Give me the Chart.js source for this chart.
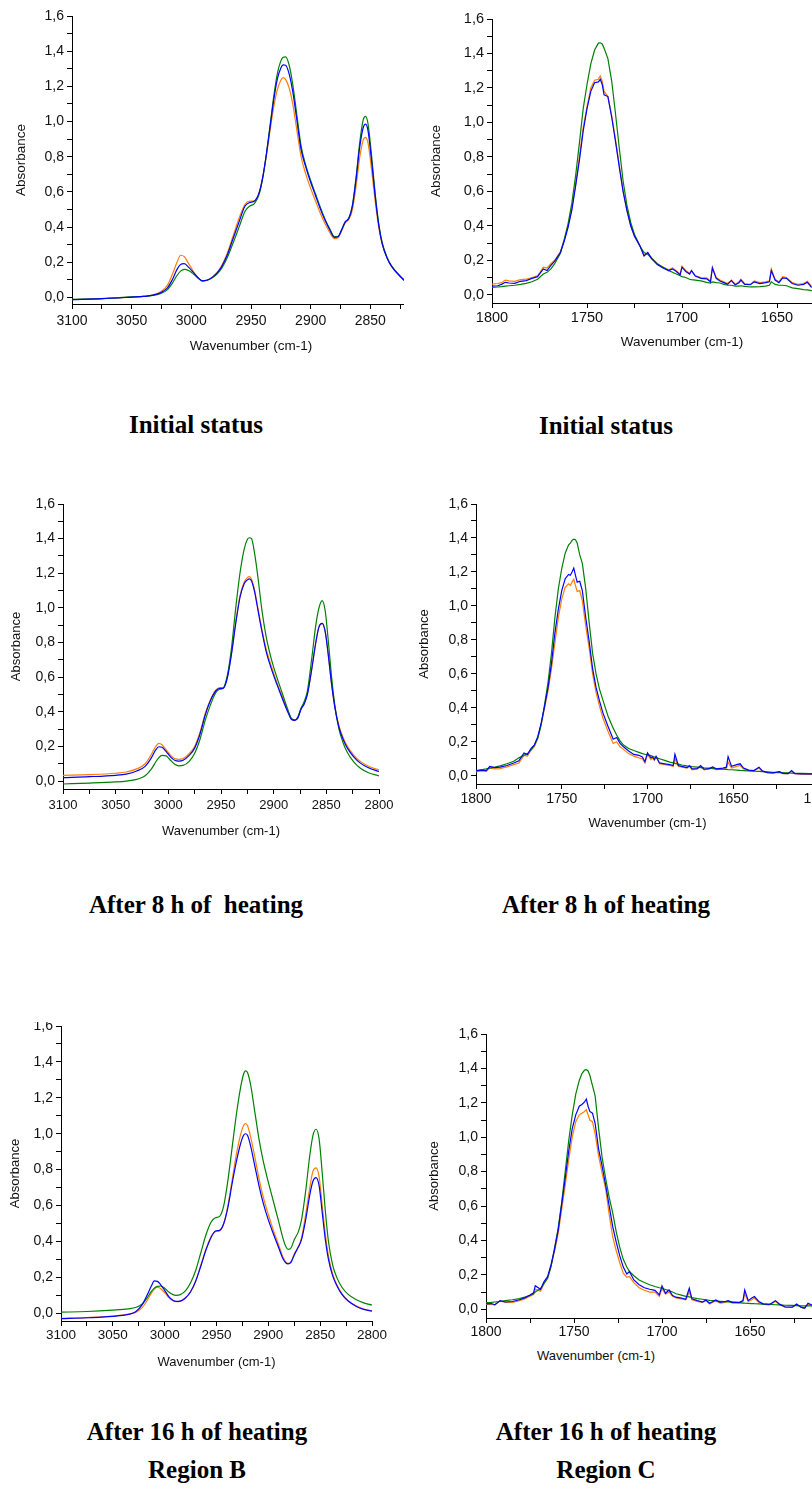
<!DOCTYPE html>
<html>
<head>
<meta charset="utf-8">
<title>FTIR spectra - regions B and C</title>
<script src="https://cdn.jsdelivr.net/npm/chart.js@4.4.1/dist/chart.umd.min.js"></script>
<style>
    html, body { margin: 0; padding: 0; background: #fff; }
    body { width: 812px; height: 1492px; position: relative; overflow: hidden; }
    .clip { position: absolute; overflow: hidden; }
    .clip canvas { position: absolute; }
    .cap { position: absolute; width: 320px; text-align: center; color: #000;
           font: bold 25px 'Liberation Serif', 'Times New Roman', serif; line-height: 30px; white-space: pre; }
    .xlab { position: absolute; width: 200px; text-align: center; color: #111;
            font: 13px 'Liberation Sans', Arial, sans-serif; line-height: 16px; }
</style>
</head>
<body>

<div class="cap" style="left:36px;top:410px">Initial status</div>
<div class="cap" style="left:446px;top:411px">Initial status</div>
<div class="cap" style="left:36px;top:890px">After 8 h of  heating</div>
<div class="cap" style="left:446px;top:890px">After 8 h of heating</div>
<div class="cap" style="left:37px;top:1417px">After 16 h of heating</div>
<div class="cap" style="left:446px;top:1417px">After 16 h of heating</div>
<div class="cap" style="left:37px;top:1455px">Region B</div>
<div class="cap" style="left:446px;top:1455px">Region C</div>
<div class="xlab" style="left:496px;top:1348px">Wavenumber (cm-1)</div>

<script>
// ---- axis ticks ----
var ABS_TICKS = [0, 0.1, 0.2, 0.3, 0.4, 0.5, 0.6, 0.7, 0.8, 0.9, 1.0, 1.1, 1.2, 1.3, 1.4, 1.5, 1.6];
var WN_TICKS_B = [3100, 3075, 3050, 3025, 3000, 2975, 2950, 2925, 2900, 2875, 2850, 2825, 2800];
var WN_TICKS_C = [1800, 1775, 1750, 1725, 1700, 1675, 1650, 1625, 1600];

// ---- Region B, initial status ----
var wnB0 = [3100, 3075, 3050, 3040, 3032, 3025, 3020, 3016, 3012, 3009,
            3006, 3002, 2998, 2994, 2991, 2987, 2982, 2976, 2970, 2965,
            2960, 2955, 2951, 2947, 2943, 2940, 2937, 2934, 2931, 2928,
            2925, 2923, 2921, 2918, 2915, 2912, 2908, 2904, 2900, 2896,
            2892, 2888, 2884, 2880, 2877, 2874, 2871, 2868, 2865, 2862,
            2859, 2856, 2854, 2852, 2849, 2846, 2843, 2840, 2836, 2832,
            2827, 2821, 2815, 2800];
var b0Orange = [-0.012, -0.006, 0.002, 0.006, 0.015, 0.035, 0.07, 0.13, 0.2, 0.24,
                0.232, 0.19, 0.145, 0.11, 0.095, 0.098, 0.118, 0.165, 0.25, 0.35,
                0.45, 0.53, 0.548, 0.55, 0.6, 0.69, 0.81, 0.95, 1.08, 1.18,
                1.235, 1.25, 1.24, 1.19, 1.1, 0.97, 0.8, 0.7, 0.62, 0.55,
                0.48, 0.42, 0.37, 0.335, 0.34, 0.38, 0.425, 0.445, 0.5, 0.63,
                0.79, 0.895, 0.91, 0.88, 0.73, 0.55, 0.4, 0.3, 0.225, 0.175,
                0.135, 0.095, 0.07, 0.04];
var b0Blue = [-0.012, -0.007, 0.002, 0.006, 0.013, 0.03, 0.055, 0.1, 0.16, 0.188,
              0.192, 0.17, 0.14, 0.11, 0.095, 0.098, 0.117, 0.16, 0.24, 0.335,
              0.43, 0.52, 0.54, 0.548, 0.6, 0.69, 0.82, 0.97, 1.12, 1.24,
              1.305, 1.322, 1.32, 1.27, 1.17, 1.03, 0.84, 0.74, 0.655, 0.58,
              0.505, 0.44, 0.385, 0.342, 0.345, 0.385, 0.43, 0.45, 0.52, 0.67,
              0.85, 0.965, 0.985, 0.95, 0.78, 0.58, 0.415, 0.305, 0.225, 0.175,
              0.135, 0.095, 0.07, 0.04];
var b0Green = [-0.01, -0.006, 0.003, 0.006, 0.012, 0.025, 0.045, 0.08, 0.125, 0.15,
               0.16, 0.152, 0.132, 0.108, 0.095, 0.097, 0.113, 0.152, 0.225, 0.31,
               0.4, 0.49, 0.52, 0.535, 0.59, 0.685, 0.82, 0.98, 1.14, 1.27,
               1.345, 1.365, 1.368, 1.32, 1.21, 1.06, 0.86, 0.75, 0.665, 0.59,
               0.515, 0.445, 0.39, 0.345, 0.348, 0.387, 0.43, 0.45, 0.525, 0.68,
               0.875, 1.01, 1.03, 0.99, 0.81, 0.595, 0.42, 0.31, 0.228, 0.177,
               0.136, 0.095, 0.07, 0.04];

// ---- Region B, after 8 h ----
var wnB8 = [3100, 3075, 3050, 3040, 3030, 3022, 3016, 3012, 3009, 3006,
            3002, 2998, 2994, 2990, 2986, 2980, 2975, 2970, 2965, 2960,
            2955, 2951, 2948, 2944, 2940, 2936, 2932, 2928, 2925, 2923,
            2921, 2918, 2915, 2911, 2907, 2902, 2897, 2892, 2887, 2883,
            2880, 2877, 2874, 2871, 2868, 2864, 2860, 2857, 2854, 2851,
            2848, 2845, 2842, 2838, 2834, 2830, 2824, 2818, 2810, 2800];
var b8Orange = [0.033, 0.037, 0.045, 0.052, 0.07, 0.1, 0.155, 0.2, 0.218, 0.21,
                0.18, 0.15, 0.13, 0.125, 0.13, 0.16, 0.2, 0.28, 0.39, 0.47,
                0.525, 0.54, 0.54, 0.6, 0.74, 0.92, 1.07, 1.15, 1.175, 1.18,
                1.165, 1.1, 1.0, 0.87, 0.76, 0.66, 0.57, 0.49, 0.41, 0.36,
                0.352, 0.37, 0.42, 0.45, 0.5, 0.64, 0.8, 0.89, 0.91, 0.86,
                0.72, 0.56, 0.43, 0.32, 0.25, 0.2, 0.15, 0.115, 0.085, 0.064];
var b8Blue = [0.02, 0.025, 0.033, 0.04, 0.058, 0.085, 0.135, 0.18, 0.198, 0.195,
              0.17, 0.14, 0.12, 0.115, 0.12, 0.15, 0.19, 0.27, 0.38, 0.465,
              0.52, 0.535, 0.535, 0.595, 0.735, 0.91, 1.06, 1.14, 1.162, 1.168,
              1.155, 1.09, 0.99, 0.86, 0.745, 0.645, 0.56, 0.48, 0.405, 0.355,
              0.35, 0.365, 0.415, 0.445, 0.5, 0.64, 0.8, 0.89, 0.91, 0.86,
              0.72, 0.56, 0.43, 0.31, 0.24, 0.19, 0.14, 0.105, 0.077, 0.055];
var b8Green = [-0.017, -0.012, -0.005, 0.0, 0.01, 0.03, 0.07, 0.11, 0.135, 0.148,
               0.145, 0.12, 0.097, 0.088, 0.09, 0.115, 0.16, 0.24, 0.35, 0.44,
               0.51, 0.53, 0.535, 0.61, 0.77, 1.0, 1.2, 1.34, 1.395, 1.405,
               1.4, 1.31, 1.18, 0.98, 0.83, 0.7, 0.6, 0.51, 0.42, 0.36,
               0.352, 0.37, 0.42, 0.46, 0.52, 0.7, 0.9, 1.0, 1.042, 0.98,
               0.8, 0.6, 0.44, 0.3, 0.22, 0.165, 0.11, 0.075, 0.048, 0.03];

// ---- Region B, after 16 h ----
var wnB16 = [3100, 3075, 3050, 3035, 3028, 3022, 3017, 3013, 3010, 3007,
             3004, 3000, 2996, 2992, 2989, 2985, 2980, 2975, 2970, 2965,
             2960, 2955, 2951, 2947, 2943, 2939, 2935, 2931, 2927, 2924,
             2922, 2920, 2917, 2913, 2909, 2905, 2900, 2895, 2890, 2886,
             2883, 2881, 2878, 2875, 2871, 2868, 2864, 2860, 2857, 2854,
             2851, 2848, 2845, 2842, 2838, 2834, 2829, 2823, 2815, 2808, 2800];
var b16Orange = [-0.028, -0.024, -0.016, -0.005, 0.005, 0.03, 0.07, 0.11, 0.135, 0.145,
                 0.138, 0.115, 0.088, 0.07, 0.065, 0.068, 0.085, 0.12, 0.18, 0.27,
                 0.36, 0.43, 0.455, 0.46, 0.5, 0.6, 0.74, 0.88, 0.99, 1.045,
                 1.057, 1.045, 0.98, 0.87, 0.75, 0.65, 0.55, 0.46, 0.38, 0.315,
                 0.285, 0.278, 0.29, 0.33, 0.37, 0.42, 0.55, 0.7, 0.79, 0.81,
                 0.76, 0.6, 0.44, 0.32, 0.22, 0.16, 0.11, 0.07, 0.04, 0.024, 0.013];
var b16Blue = [-0.03, -0.025, -0.017, -0.006, 0.008, 0.045, 0.1, 0.15, 0.18, 0.178,
               0.16, 0.128, 0.093, 0.072, 0.066, 0.068, 0.085, 0.12, 0.18, 0.265,
               0.355, 0.425, 0.458, 0.462, 0.5, 0.59, 0.72, 0.84, 0.94, 0.99,
               1.0, 0.99, 0.93, 0.82, 0.71, 0.615, 0.52, 0.44, 0.365, 0.305,
               0.28, 0.275, 0.285, 0.325, 0.37, 0.41, 0.52, 0.66, 0.735, 0.756,
               0.71, 0.56, 0.41, 0.3, 0.21, 0.155, 0.105, 0.068, 0.038, 0.022, 0.012];
var b16Green = [0.006, 0.01, 0.018, 0.025, 0.032, 0.05, 0.085, 0.12, 0.14, 0.15,
                0.152, 0.14, 0.118, 0.104, 0.1, 0.104, 0.125, 0.17, 0.24, 0.34,
                0.44, 0.51, 0.532, 0.54, 0.6, 0.74, 0.92, 1.1, 1.25, 1.33,
                1.35, 1.34, 1.27, 1.12, 0.97, 0.85, 0.73, 0.62, 0.51, 0.42,
                0.37, 0.356, 0.365, 0.41, 0.455, 0.52, 0.68, 0.88, 0.99, 1.025,
                0.97, 0.78, 0.57, 0.4, 0.27, 0.2, 0.145, 0.105, 0.075, 0.058, 0.046];

// ---- Region C, initial status ----
var wnC0 = [1800, 1797, 1795, 1793, 1791, 1788, 1785, 1782, 1779, 1776,
            1773, 1771, 1769, 1767, 1764, 1762, 1760, 1758, 1756, 1754,
            1752, 1750, 1748, 1746, 1744, 1743, 1742, 1741, 1739, 1737,
            1735, 1733, 1731, 1729, 1727, 1725, 1722, 1720, 1718, 1716,
            1713, 1710, 1707, 1705, 1703, 1701, 1700, 1698, 1696, 1695,
            1693, 1690, 1687, 1685, 1684, 1682, 1680, 1678, 1676, 1674,
            1672, 1670, 1669, 1667, 1664, 1662, 1659, 1656, 1654, 1653,
            1651, 1649, 1647, 1645, 1642, 1639, 1636, 1634, 1632, 1628];
var c0Orange = [0.062, 0.065, 0.07, 0.085, 0.08, 0.078, 0.088, 0.09, 0.1, 0.11,
                0.16, 0.155, 0.18, 0.2, 0.25, 0.32, 0.4, 0.5, 0.64, 0.8,
                0.97, 1.09, 1.2, 1.245, 1.25, 1.27, 1.24, 1.18, 1.15, 1.04,
                0.9, 0.75, 0.6, 0.49, 0.4, 0.34, 0.28, 0.23, 0.24, 0.215,
                0.18, 0.16, 0.145, 0.155, 0.14, 0.12, 0.165, 0.14, 0.125, 0.14,
                0.11, 0.1, 0.098, 0.08, 0.16, 0.1, 0.085, 0.075, 0.065, 0.085,
                0.06, 0.075, 0.09, 0.065, 0.06, 0.08, 0.07, 0.075, 0.08, 0.15,
                0.09, 0.075, 0.105, 0.1, 0.07, 0.06, 0.065, 0.078, 0.05, 0.045];
var c0Blue = [0.05, 0.052, 0.06, 0.072, 0.068, 0.066, 0.078, 0.082, 0.095, 0.105,
              0.15, 0.14, 0.17, 0.195, 0.245, 0.31, 0.39, 0.49, 0.63, 0.78,
              0.95, 1.08, 1.18, 1.23, 1.235, 1.25, 1.22, 1.16, 1.15, 1.03,
              0.89, 0.74, 0.6, 0.49, 0.4, 0.34, 0.28, 0.225, 0.245, 0.21,
              0.175, 0.155, 0.14, 0.15, 0.135, 0.115, 0.16, 0.135, 0.12, 0.14,
              0.108, 0.095, 0.092, 0.075, 0.155, 0.095, 0.08, 0.07, 0.06, 0.082,
              0.058, 0.07, 0.085, 0.06, 0.058, 0.075, 0.065, 0.07, 0.075, 0.14,
              0.085, 0.07, 0.098, 0.095, 0.065, 0.055, 0.06, 0.072, 0.045, 0.04];
var c0Green = [0.042, 0.045, 0.047, 0.05, 0.052, 0.055, 0.06, 0.066, 0.075, 0.09,
               0.12, 0.13, 0.15, 0.18, 0.24, 0.32, 0.41, 0.53, 0.69, 0.88,
               1.08, 1.22, 1.34, 1.42, 1.46, 1.462, 1.455, 1.43, 1.37, 1.24,
               1.05, 0.85, 0.66, 0.52, 0.42, 0.35, 0.28, 0.245, 0.235, 0.21,
               0.18, 0.16, 0.14, 0.13, 0.12, 0.11, 0.105, 0.1, 0.09, 0.088,
               0.085, 0.08, 0.072, 0.068, 0.075, 0.07, 0.068, 0.06, 0.055, 0.055,
               0.05, 0.05, 0.052, 0.048, 0.045, 0.045, 0.047, 0.05, 0.055, 0.075,
               0.06, 0.055, 0.055, 0.052, 0.04, 0.035, 0.03, 0.028, 0.024, 0.02];

// ---- Region C, after 8 h ----
var wnC8 = [1800, 1797, 1794, 1792, 1789, 1786, 1782, 1778, 1775, 1772,
            1770, 1768, 1766, 1764, 1762, 1760, 1758, 1756, 1754, 1752,
            1750, 1748, 1746, 1745, 1744, 1743, 1742, 1741, 1739.5, 1738,
            1736, 1734, 1732, 1730, 1728, 1726, 1723, 1720, 1718, 1716,
            1714, 1711, 1708, 1705, 1703, 1701.5, 1700, 1698, 1697, 1696,
            1695, 1693, 1690, 1687, 1685, 1684, 1682, 1680, 1677, 1675.5,
            1674, 1671, 1669, 1667, 1664, 1662, 1660, 1656, 1654, 1653,
            1651, 1648, 1646, 1644, 1641, 1638, 1635, 1633, 1630, 1627,
            1623, 1621, 1618, 1616, 1614, 1610, 1605, 1600];
var c8Orange = [0.022, 0.028, 0.025, 0.045, 0.04, 0.042, 0.052, 0.065, 0.075, 0.12,
                0.115, 0.15, 0.17, 0.22, 0.3, 0.4, 0.5, 0.63, 0.78, 0.93,
                1.04, 1.11, 1.13, 1.12, 1.14, 1.157, 1.12, 1.085, 1.09, 1.03,
                0.88, 0.75, 0.6, 0.49, 0.41, 0.34, 0.26, 0.19, 0.2, 0.17,
                0.155, 0.13, 0.115, 0.105, 0.1, 0.075, 0.125, 0.095, 0.105, 0.09,
                0.11, 0.07, 0.065, 0.06, 0.055, 0.1, 0.055, 0.05, 0.045, 0.055,
                0.035, 0.04, 0.055, 0.035, 0.04, 0.05, 0.035, 0.038, 0.045, 0.08,
                0.045, 0.055, 0.06, 0.04, 0.03, 0.028, 0.045, 0.025, 0.018, 0.015,
                0.022, 0.012, 0.012, 0.028, 0.012, 0.008, 0.008, 0.008];
var c8Blue = [0.028, 0.033, 0.03, 0.055, 0.047, 0.05, 0.06, 0.075, 0.088, 0.134,
              0.125, 0.16, 0.18, 0.23, 0.31, 0.41, 0.52, 0.66, 0.84, 0.98,
              1.09, 1.16, 1.185, 1.18, 1.2, 1.222, 1.18, 1.14, 1.145, 1.09,
              0.93, 0.79, 0.63, 0.52, 0.44, 0.37, 0.29, 0.215, 0.225, 0.19,
              0.17, 0.145, 0.125, 0.12, 0.11, 0.082, 0.134, 0.105, 0.11, 0.095,
              0.114, 0.075, 0.07, 0.065, 0.06, 0.126, 0.06, 0.055, 0.048, 0.058,
              0.04, 0.042, 0.06, 0.038, 0.042, 0.052, 0.04, 0.045, 0.05, 0.112,
              0.055, 0.065, 0.07, 0.045, 0.033, 0.03, 0.05, 0.028, 0.018, 0.016,
              0.024, 0.013, 0.012, 0.03, 0.012, 0.01, 0.01, 0.01];
var c8Green = [0.03, 0.035, 0.04, 0.045, 0.05, 0.058, 0.07, 0.085, 0.105, 0.12,
               0.13, 0.15, 0.18, 0.22, 0.3, 0.42, 0.55, 0.72, 0.93, 1.1,
               1.22, 1.31, 1.36, 1.37, 1.385, 1.393, 1.39, 1.37, 1.3, 1.25,
               1.1, 0.9, 0.72, 0.6, 0.51, 0.445, 0.35, 0.28, 0.24, 0.205,
               0.18, 0.16, 0.148, 0.137, 0.13, 0.126, 0.123, 0.118, 0.114, 0.11,
               0.106, 0.1, 0.09, 0.08, 0.075, 0.072, 0.068, 0.063, 0.058, 0.056,
               0.053, 0.05, 0.048, 0.046, 0.044, 0.042, 0.04, 0.038, 0.037, 0.036,
               0.035, 0.033, 0.031, 0.03, 0.028, 0.026, 0.025, 0.024, 0.022, 0.02,
               0.018, 0.017, 0.016, 0.015, 0.014, 0.013, 0.012, 0.012];

// ---- Region C, after 16 h ----
var wnC16 = [1800, 1797, 1795, 1792, 1789, 1785, 1781, 1778, 1775, 1773,
             1772, 1769, 1767, 1765, 1763, 1761, 1759, 1757, 1755, 1753,
             1751, 1749, 1747, 1745.5, 1744, 1743, 1742, 1741, 1739.5, 1738,
             1736, 1734, 1732, 1730, 1728, 1726, 1724, 1722, 1720, 1718.5,
             1716, 1713, 1710, 1707, 1704, 1701.5, 1700, 1698, 1696, 1694,
             1692, 1689, 1686.5, 1684.5, 1683, 1680, 1677, 1675, 1673, 1671,
             1669.5, 1667, 1664, 1662.5, 1660, 1656, 1654, 1653, 1651, 1649,
             1647.5, 1645, 1642.5, 1639, 1635.5, 1633, 1630, 1626, 1623.5, 1621,
             1619, 1617, 1614, 1610];
var c16Orange = [0.028, 0.03, 0.025, 0.048, 0.04, 0.04, 0.05, 0.06, 0.075, 0.085,
                 0.116, 0.105, 0.15, 0.18, 0.25, 0.34, 0.44, 0.58, 0.72, 0.87,
                 1.0, 1.09, 1.13, 1.14, 1.15, 1.16, 1.13, 1.1, 1.09, 1.02,
                 0.89, 0.79, 0.7, 0.55, 0.42, 0.34, 0.27, 0.21, 0.185, 0.19,
                 0.155, 0.125, 0.11, 0.1, 0.1, 0.075, 0.12, 0.088, 0.1, 0.075,
                 0.065, 0.06, 0.055, 0.1, 0.055, 0.045, 0.04, 0.05, 0.03, 0.04,
                 0.05, 0.035, 0.04, 0.048, 0.035, 0.036, 0.045, 0.09, 0.045, 0.055,
                 0.065, 0.04, 0.028, 0.025, 0.045, 0.025, 0.012, 0.01, 0.028, 0.01,
                 0.005, 0.03, 0.015, 0.012];
var c16Blue = [0.031, 0.033, 0.026, 0.05, 0.042, 0.045, 0.055, 0.066, 0.083, 0.095,
               0.136, 0.116, 0.161, 0.19, 0.26, 0.35, 0.46, 0.61, 0.76, 0.92,
               1.05, 1.13, 1.18, 1.19, 1.205, 1.222, 1.18, 1.15, 1.14, 1.08,
               0.93, 0.83, 0.72, 0.6, 0.48, 0.39, 0.31, 0.245, 0.205, 0.219,
               0.17, 0.142, 0.125, 0.116, 0.11, 0.083, 0.136, 0.093, 0.112, 0.08,
               0.07, 0.065, 0.058, 0.122, 0.06, 0.05, 0.042, 0.054, 0.035, 0.045,
               0.054, 0.04, 0.045, 0.05, 0.04, 0.04, 0.05, 0.112, 0.05, 0.065,
               0.074, 0.045, 0.031, 0.028, 0.05, 0.028, 0.013, 0.012, 0.031, 0.012,
               0.006, 0.035, 0.02, 0.015];
var c16Green = [0.038, 0.04, 0.042, 0.045, 0.05, 0.055, 0.062, 0.07, 0.08, 0.09,
                0.1, 0.12, 0.15, 0.18, 0.25, 0.36, 0.47, 0.62, 0.8, 0.98,
                1.13, 1.25, 1.33, 1.37, 1.39, 1.393, 1.385, 1.36, 1.3, 1.24,
                1.05, 0.88, 0.76, 0.65, 0.56, 0.45, 0.36, 0.29, 0.245, 0.22,
                0.195, 0.17, 0.155, 0.142, 0.132, 0.125, 0.122, 0.115, 0.108, 0.1,
                0.09, 0.082, 0.075, 0.072, 0.068, 0.062, 0.058, 0.055, 0.052, 0.05,
                0.048, 0.046, 0.044, 0.043, 0.041, 0.038, 0.036, 0.035, 0.034, 0.033,
                0.032, 0.031, 0.03, 0.028, 0.026, 0.025, 0.023, 0.022, 0.021, 0.02,
                0.02, 0.019, 0.019, 0.018];

;(function () {
    'use strict';

    var ORANGE = '#ff7f00', BLUE = '#0000ff', GREEN = '#008000';
    var FONT = "'Liberation Sans', Arial, sans-serif";
    var INK = '#111';
    var PAD_TOP = 12, PAD_RIGHT = 26;

    // panel geometry in page pixels: plot = [left, top, right, bottom] of the plot area
    var PANELS = [
        { wn: wnB0, o: b0Orange, b: b0Blue, g: b0Green, xt: WN_TICKS_B, xmin: 2800, xmax: 3100, ymin: -0.037,
          plot: [72, 16, 430, 304], clip: [0, 0, 404, 400], yTitleX: 21, xTitleY: 346,
          tick: 14, xtick: 14, title: 13.5, xPad: 4, smooth: true },
        { wn: wnC0, o: c0Orange, b: c0Blue, g: c0Green, xt: WN_TICKS_C, xmin: 1600, xmax: 1800, ymin: -0.048,
          plot: [492, 19, 872, 303], clip: [406, 0, 406, 400], yTitleX: 436, xTitleY: 342,
          tick: 14.5, xtick: 14.5, title: 13.5, xPad: 1.5, smooth: false },
        { wn: wnB8, o: b8Orange, b: b8Blue, g: b8Green, xt: WN_TICKS_B, xmin: 2800, xmax: 3100, ymin: -0.046,
          plot: [63, 504, 379, 789], clip: [0, 470, 406, 400], yTitleX: 17, xTitleY: 831,
          tick: 14, xtick: 13, title: 13, xPad: 3.5, smooth: true },
        { wn: wnC8, o: c8Orange, b: c8Blue, g: c8Green, xt: WN_TICKS_C, xmin: 1600, xmax: 1800, ymin: -0.049,
          plot: [476, 504, 819, 784], clip: [406, 470, 406, 400], yTitleX: 425, xTitleY: 823,
          tick: 14, xtick: 14, title: 13, xPad: 1.5, smooth: false },
        { wn: wnB16, o: b16Orange, b: b16Blue, g: b16Green, xt: WN_TICKS_B, xmin: 2800, xmax: 3100, ymin: -0.043,
          plot: [61, 1026, 372, 1321], clip: [0, 1022, 406, 400], yTitleX: 16, xTitleY: 1362,
          tick: 14, xtick: 13.5, title: 13, xPad: 1.5, smooth: true },
        { wn: wnC16, o: c16Orange, b: c16Blue, g: c16Green, xt: WN_TICKS_C, xmin: 1600, xmax: 1800, ymin: -0.051,
          plot: [486, 1034, 838, 1318], clip: [406, 1000, 406, 400], yTitleX: 435, xTitleY: null,
          tick: 14, xtick: 14, title: 13, xPad: 0.5, smooth: false }
    ];

    function fmtAbs(v) {
        var k = Math.round(v * 10);
        return k % 2 === 0 ? (k / 10).toFixed(1).replace('.', ',') : '';
    }

    function fmtWn(v) {
        return v % 50 === 0 ? String(v) : '';
    }

    function points(xs, ys) {
        return xs.map(function (x, i) { return { x: x, y: ys[i] }; });
    }

    function tickList(values) {
        return function (scale) {
            scale.ticks = values.map(function (v) { return { value: v }; });
        };
    }

    function buildPanel(p) {
        var lh = p.title * 1.2;
        var cx = Math.round(p.yTitleX - lh / 2);
        var ct = p.plot[1] - PAD_TOP;
        var yw = p.plot[0] - cx;
        var xh = p.xTitleY ? Math.round(p.xTitleY + lh / 2 - p.plot[3]) : 48;
        var cw = p.plot[2] + PAD_RIGHT - cx;
        var ch = p.plot[3] + xh - ct;

        var box = document.createElement('div');
        box.className = 'clip';
        box.style.left = p.clip[0] + 'px';
        box.style.top = p.clip[1] + 'px';
        box.style.width = p.clip[2] + 'px';
        box.style.height = p.clip[3] + 'px';

        var canvas = document.createElement('canvas');
        canvas.width = cw;
        canvas.height = ch;
        canvas.style.width = cw + 'px';
        canvas.style.height = ch + 'px';
        canvas.style.left = (cx - p.clip[0]) + 'px';
        canvas.style.top = (ct - p.clip[1]) + 'px';
        box.appendChild(canvas);
        document.body.appendChild(box);

        // first dataset is painted last, so blue ends up on top
        var sets = [[p.b, BLUE], [p.g, GREEN], [p.o, ORANGE]].map(function (s) {
            var ds = { data: points(p.wn, s[0]), borderColor: s[1], borderWidth: 1.2,
                       pointRadius: 0, fill: false };
            if (p.smooth) ds.cubicInterpolationMode = 'monotone';
            else ds.tension = 0;
            return ds;
        });

        var axisLine = { display: true, color: '#000', width: 1 };
        var tickMarks = { drawOnChartArea: false, drawTicks: true, tickLength: 5,
                          tickColor: '#000', tickWidth: 1 };

        new Chart(canvas, {
            type: 'line',
            data: { datasets: sets },
            options: {
                responsive: false,
                animation: false,
                events: [],
                layout: { padding: { left: 0, top: PAD_TOP, right: PAD_RIGHT, bottom: 0 } },
                plugins: { legend: { display: false }, tooltip: { enabled: false } },
                scales: {
                    x: {
                        type: 'linear', reverse: true, min: p.xmin, max: p.xmax,
                        afterBuildTicks: tickList(p.xt),
                        afterFit: function (s) { s.height = xh; },
                        border: axisLine, grid: tickMarks,
                        ticks: { autoSkip: false, maxRotation: 0, minRotation: 0, padding: p.xPad,
                                 color: INK, font: { family: FONT, size: p.xtick }, callback: fmtWn },
                        title: { display: !!p.xTitleY, text: 'Wavenumber (cm-1)', padding: 0,
                                 color: INK, font: { family: FONT, size: p.title } }
                    },
                    y: {
                        type: 'linear', min: p.ymin, max: 1.6,
                        afterBuildTicks: tickList(ABS_TICKS),
                        afterFit: function (s) { s.width = yw; },
                        border: axisLine, grid: tickMarks,
                        ticks: { autoSkip: false, padding: 3, color: INK,
                                 font: { family: FONT, size: p.tick }, callback: fmtAbs },
                        title: { display: true, text: 'Absorbance', padding: 0,
                                 color: INK, font: { family: FONT, size: p.title } }
                    }
                }
            }
        });
    }

    PANELS.forEach(buildPanel);
})();
</script>
</body>
</html>
